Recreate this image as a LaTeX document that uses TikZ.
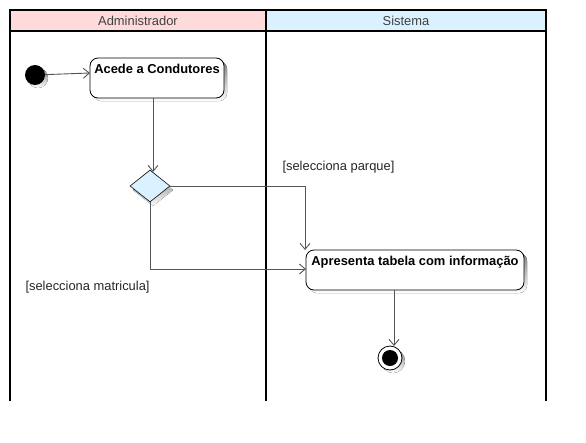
\documentclass[tikz,border=0pt]{standalone}
\usepackage{fontspec}
\setmainfont{Liberation Sans}
\usetikzlibrary{arrows.meta,shapes.geometric,positioning}
\definecolor{hdrA}{HTML}{FFDADA}
\definecolor{hdrB}{HTML}{DAF2FF}
\definecolor{decfill}{HTML}{DAF2FF}
\definecolor{conn}{HTML}{555555}
\definecolor{shade}{HTML}{EBEBEB}
\tikzset{
  lanebox/.style={draw=black,line width=1.5pt},
  hdrtext/.style={font=\fontsize{12.9}{14}\selectfont,text=black!75},
  actbox/.style={draw=black,line width=0.8pt,rounded corners=8pt,fill=white},
  acttext/.style={font=\bfseries\fontsize{12.9}{14}\selectfont,anchor=north},
  conn/.style={draw=conn,line width=0.9pt,-{Straight Barb[length=6pt,width=10pt]}},
  guard/.style={font=\fontsize{12.9}{14}\selectfont,text=black!85},
}
\begin{document}
\begin{tikzpicture}[x=1pt,y=-1pt]
\useasboundingbox (0,0) rectangle (586,442);
% headers
\fill[hdrA] (10,10) rectangle (266,31);
\fill[hdrB] (266,10) rectangle (546,31);
\node[hdrtext] (hA) at (138,20.5) {Administrador};
\node[hdrtext] (hB) at (406,20.5) {Sistema};
\draw[lanebox] (10,401) -- (10,10) -- (546,10) -- (546,401);
\draw[lanebox] (10,31) -- (546,31);
\draw[lanebox] (266,10) -- (266,401);
% start
\fill[shade] (38,78) circle (10);
\node[circle,fill=black,minimum size=20pt,inner sep=0pt] (start) at (35,75) {};
% activity 1
\fill[shade,rounded corners=8pt] (93,61) rectangle (227,101);
\draw[actbox] (90,58) rectangle (224,98);
\node[acttext] (a1) at (157,61) {Acede a Condutores};
\coordinate (a1w) at (90,73);
\coordinate (a1s) at (153,98);
% decision
\fill[shade] (153,174) -- (173,190) -- (153,206) -- (133,190) -- cycle;
\node[diamond,draw=black,line width=0.6pt,fill=decfill,minimum width=40pt,minimum height=32pt,inner sep=0pt,aspect=1.25] (dec) at (150,186) {};
\coordinate (decn) at (153,172);
% activity 2
\fill[shade,rounded corners=8pt] (309,253) rectangle (527,293);
\draw[actbox] (306,250) rectangle (524,290);
\node[acttext] (a2) at (415,253) {Apresenta tabela com informação};
\coordinate (a2n) at (305,250);
\coordinate (a2w) at (306,269);
\coordinate (a2s) at (394,290);
% end
\fill[shade] (393,361) circle (12);
\node[circle,draw=black,line width=0.8pt,fill=white,minimum size=24pt,inner sep=0pt] (end) at (390,358) {};
\fill[black] (end.center) circle (8);
\coordinate (endn) at (394,346);
% connectors
\draw[conn] (start) -- (a1w);
\draw[conn] (a1s) -- (decn);
\draw[conn] (dec.east) -| (a2n);
\draw[conn] (dec.south) |- (a2w);
\draw[conn] (a2s) -- (endn);
% guards
\node[guard,anchor=west] (g1) at (279,167) {[selecciona parque]};
\node[guard,anchor=west] (g2) at (22,287) {[selecciona matricula]};
\end{tikzpicture}
\end{document}
